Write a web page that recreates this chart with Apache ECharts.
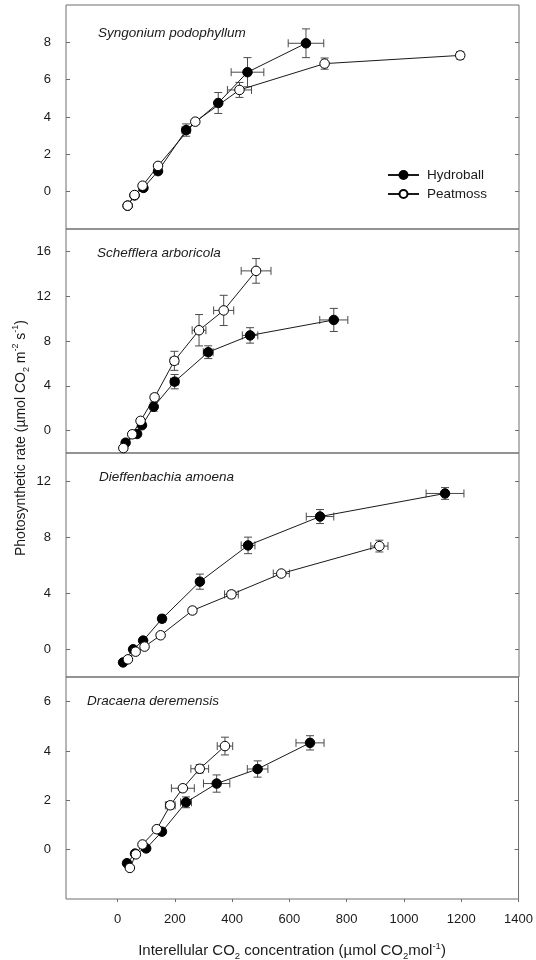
<!DOCTYPE html>
<html>
<head>
<meta charset="utf-8">
<script src="https://cdn.jsdelivr.net/npm/echarts@6/dist/echarts.min.js"></script>
<style>
  html, body { margin: 0; padding: 0; background: #fff; }
  #main { width: 536px; height: 960px; }
</style>
</head>
<body>
<div id="main"></div>
<script>
  // Ci values (x), A values (y) and SE bars
  var xTicks = [0, 200, 400, 600, 800, 1000, 1200, 1400];

  // Syngonium podophyllum
  var spHydroX = [35, 59, 90, 141, 239, 351, 453, 657];
  var spHydroY = [-0.75, -0.2, 0.2, 1.1, 3.3, 4.75, 6.4, 7.95];
  var spHydroXErr = [3, 3, 4, 5, 14, 10, 57, 62];
  var spHydroYErr = [0.1, 0.1, 0.12, 0.15, 0.33, 0.56, 0.78, 0.77];
  var spPeatX = [35, 59, 87, 141, 271, 425, 722, 1195];
  var spPeatY = [-0.75, -0.18, 0.32, 1.38, 3.75, 5.45, 6.86, 7.3];
  var spPeatXErr = [3, 3, 4, 5, 8, 42, 10, 8];
  var spPeatYErr = [0.1, 0.1, 0.12, 0.15, 0.15, 0.4, 0.3, 0.2];

  // Schefflera arboricola
  var saHydroX = [28, 68, 85, 126, 199, 316, 462, 754];
  var saHydroY = [-1.08, -0.3, 0.48, 2.13, 4.37, 7.0, 8.5, 9.88];
  var saHydroXErr = [3, 3, 4, 6, 14, 17, 27, 49];
  var saHydroYErr = [0.1, 0.15, 0.2, 0.4, 0.64, 0.57, 0.69, 1.03];
  var saPeatX = [20, 51, 80, 129, 198, 284, 370, 483];
  var saPeatY = [-1.56, -0.33, 0.87, 2.97, 6.23, 8.96, 10.73, 14.26];
  var saPeatXErr = [3, 3, 4, 5, 14, 24, 35, 52];
  var saPeatYErr = [0.1, 0.15, 0.2, 0.3, 0.85, 1.4, 1.35, 1.1];

  // Dieffenbachia amoena
  var daHydroX = [19, 54, 89, 155, 287, 455, 706, 1142];
  var daHydroY = [-0.96, -0.02, 0.6, 2.16, 4.81, 7.4, 9.46, 11.11];
  var daHydroXErr = [3, 4, 5, 6, 8, 24, 48, 66];
  var daHydroYErr = [0.1, 0.15, 0.2, 0.25, 0.54, 0.59, 0.5, 0.42];
  var daPeatX = [36, 63, 94, 150, 261, 397, 571, 913];
  var daPeatY = [-0.74, -0.19, 0.17, 0.98, 2.75, 3.9, 5.39, 7.35];
  var daPeatXErr = [3, 3, 4, 5, 10, 24, 28, 30];
  var daPeatYErr = [0.1, 0.1, 0.12, 0.15, 0.2, 0.25, 0.2, 0.42];

  // Dracaena deremensis
  var ddHydroX = [33, 61, 100, 155, 239, 346, 489, 672];
  var ddHydroY = [-0.55, -0.16, 0.05, 0.73, 1.92, 2.68, 3.27, 4.33];
  var ddHydroXErr = [3, 3, 4, 6, 19, 46, 36, 49];
  var ddHydroYErr = [0.05, 0.08, 0.08, 0.1, 0.22, 0.35, 0.33, 0.29];
  var ddPeatX = [43, 64, 87, 137, 184, 228, 287, 375];
  var ddPeatY = [-0.74, -0.19, 0.21, 0.83, 1.8, 2.49, 3.28, 4.2];
  var ddPeatXErr = [3, 3, 4, 8, 17, 40, 31, 27];
  var ddPeatYErr = [0.05, 0.08, 0.08, 0.1, 0.15, 0.1, 0.17, 0.36];

  var panels = [
    { name: 'Syngonium podophyllum', yMin: -2, yMax: 10, yTicks: [0, 2, 4, 6, 8],
      hx: spHydroX, hy: spHydroY, hxe: spHydroXErr, hye: spHydroYErr,
      px: spPeatX, py: spPeatY, pxe: spPeatXErr, pye: spPeatYErr },
    { name: 'Schefflera arboricola', yMin: -2, yMax: 18, yTicks: [0, 4, 8, 12, 16],
      hx: saHydroX, hy: saHydroY, hxe: saHydroXErr, hye: saHydroYErr,
      px: saPeatX, py: saPeatY, pxe: saPeatXErr, pye: saPeatYErr },
    { name: 'Dieffenbachia amoena', yMin: -2, yMax: 14, yTicks: [0, 4, 8, 12],
      hx: daHydroX, hy: daHydroY, hxe: daHydroXErr, hye: daHydroYErr,
      px: daPeatX, py: daPeatY, pxe: daPeatXErr, pye: daPeatYErr },
    { name: 'Dracaena deremensis', yMin: -2, yMax: 7, yTicks: [0, 2, 4, 6],
      hx: ddHydroX, hy: ddHydroY, hxe: ddHydroXErr, hye: ddHydroYErr,
      px: ddPeatX, py: ddPeatY, pxe: ddPeatXErr, pye: ddPeatYErr }
  ];

  var gridTops = [5, 229, 453, 677];
  var gridHeights = [224, 224, 224, 222];
  var titlePos = [[98, 26], [97, 246], [99, 470], [87, 694]];
  var font = 'Liberation Sans, Arial, sans-serif';
  var frameColor = '#6e6e6e';

  function zip(a, b) {
    return a.map(function (v, i) { return [v, b[i]]; });
  }
  function zipErr(x, y, xe, ye) {
    return x.map(function (v, i) { return [v, y[i], xe[i], ye[i]]; });
  }

  function renderErr(params, api) {
    var x = api.value(0), y = api.value(1), xe = api.value(2), ye = api.value(3);
    var l = api.coord([x - xe, y]), r = api.coord([x + xe, y]);
    var t = api.coord([x, y + ye]), b = api.coord([x, y - ye]);
    var cap = 4;
    var st = { stroke: '#4a4a4a', lineWidth: 1, fill: null };
    var lines = [
      [l[0], l[1], r[0], r[1]],
      [l[0], l[1] - cap, l[0], l[1] + cap],
      [r[0], r[1] - cap, r[0], r[1] + cap],
      [t[0], t[1], b[0], b[1]],
      [t[0] - cap, t[1], t[0] + cap, t[1]],
      [b[0] - cap, b[1], b[0] + cap, b[1]]
    ];
    return {
      type: 'group',
      children: lines.map(function (p) {
        return { type: 'line', shape: { x1: p[0], y1: p[1], x2: p[2], y2: p[3] }, style: st };
      })
    };
  }

  var grid = [], xAxis = [], yAxis = [], series = [], title = [];
  panels.forEach(function (p, i) {
    grid.push({ left: 66, right: 17, top: gridTops[i], height: gridHeights[i],
      show: true, borderColor: frameColor, borderWidth: 1 });
    title.push({ text: p.name, left: titlePos[i][0], top: titlePos[i][1], padding: 0,
      textStyle: { fontStyle: 'italic', fontWeight: 'normal', fontSize: 13.5, color: '#1a1a1a', fontFamily: font } });
    var last = i === panels.length - 1;
    xAxis.push({
      gridIndex: i, type: 'value', min: -180, max: 1400,
      axisLine: { show: false, onZero: false }, splitLine: { show: false },
      axisTick: { show: last, inside: false, length: 3, customValues: xTicks, lineStyle: { color: frameColor } },
      axisLabel: { show: last, customValues: xTicks, margin: 14, fontSize: 13, color: '#1a1a1a', fontFamily: font,
        formatter: function (v) { return String(v); } }
    });
    yAxis.push({
      gridIndex: i, type: 'value', min: p.yMin, max: p.yMax, position: 'left',
      axisLine: { show: false, onZero: false }, splitLine: { show: false },
      axisTick: { inside: true, length: 4, customValues: p.yTicks, lineStyle: { color: frameColor } },
      axisLabel: { customValues: p.yTicks, margin: 15, fontSize: 13, color: '#1a1a1a', fontFamily: font }
    });
    yAxis.push({
      gridIndex: i, type: 'value', min: p.yMin, max: p.yMax, position: 'right',
      axisLine: { show: false, onZero: false }, splitLine: { show: false },
      axisTick: { inside: true, length: 4, customValues: p.yTicks, lineStyle: { color: frameColor } },
      axisLabel: { show: false }
    });

    series.push({
      type: 'custom', name: 'err-h' + i, xAxisIndex: i, yAxisIndex: i * 2, z: 1,
      renderItem: renderErr, encode: { x: 0, y: 1 }, data: zipErr(p.hx, p.hy, p.hxe, p.hye)
    });
    series.push({
      type: 'custom', name: 'err-p' + i, xAxisIndex: i, yAxisIndex: i * 2, z: 1,
      renderItem: renderErr, encode: { x: 0, y: 1 }, data: zipErr(p.px, p.py, p.pxe, p.pye)
    });
    series.push({
      type: 'line', name: 'Hydroball', xAxisIndex: i, yAxisIndex: i * 2, z: 3,
      symbol: 'circle', symbolSize: 9.5,
      lineStyle: { color: '#1a1a1a', width: 1 },
      itemStyle: { color: '#000', borderColor: '#000', borderWidth: 1 },
      data: zip(p.hx, p.hy)
    });
    series.push({
      type: 'line', name: 'Peatmoss', xAxisIndex: i, yAxisIndex: i * 2, z: 3,
      symbol: 'circle', symbolSize: 9.5,
      lineStyle: { color: '#1a1a1a', width: 1 },
      itemStyle: { color: '#fff', borderColor: '#000', borderWidth: 1 },
      data: zip(p.px, p.py)
    });
  });

  var chart = echarts.init(document.getElementById('main'));
  chart.setOption({
    animation: false,
    backgroundColor: '#fff',
    title: title,
    legend: {
      data: ['Hydroball', 'Peatmoss'], orient: 'vertical', left: 387, top: 168, padding: 0,
      itemWidth: 31, itemHeight: 10, itemGap: 5,
      textStyle: { fontSize: 13.5, color: '#1a1a1a', fontFamily: font, padding: [0, 0, 0, 3] }
    },
    grid: grid,
    xAxis: xAxis,
    yAxis: yAxis,
    series: series,
    graphic: [
      {
        type: 'text', x: 21, y: 438, rotation: Math.PI / 2,
        style: {
          text: 'Photosynthetic rate (µmol CO{sub|2} m{sup|-2} s{sup|-1})',
          align: 'center', verticalAlign: 'middle',
          font: '14px Liberation Sans', fill: '#1a1a1a', lineHeight: 20,
          rich: {
            sub: { fontSize: 9, lineHeight: 9, verticalAlign: 'bottom', fontFamily: font },
            sup: { fontSize: 9, lineHeight: 9, verticalAlign: 'top', fontFamily: font }
          }
        }
      },
      {
        type: 'text', x: 292, y: 951,
        style: {
          text: 'Interellular CO{sub|2} concentration (µmol CO{sub|2}mol{sup|-1})',
          align: 'center', verticalAlign: 'middle',
          font: '15px Liberation Sans', fill: '#1a1a1a', lineHeight: 20,
          rich: {
            sub: { fontSize: 9.5, lineHeight: 9, verticalAlign: 'bottom', fontFamily: font },
            sup: { fontSize: 9.5, lineHeight: 9, verticalAlign: 'top', fontFamily: font }
          }
        }
      }
    ]
  });

  window.addEventListener('resize', function () {
    chart.resize();
  });
</script>
</body>
</html>
